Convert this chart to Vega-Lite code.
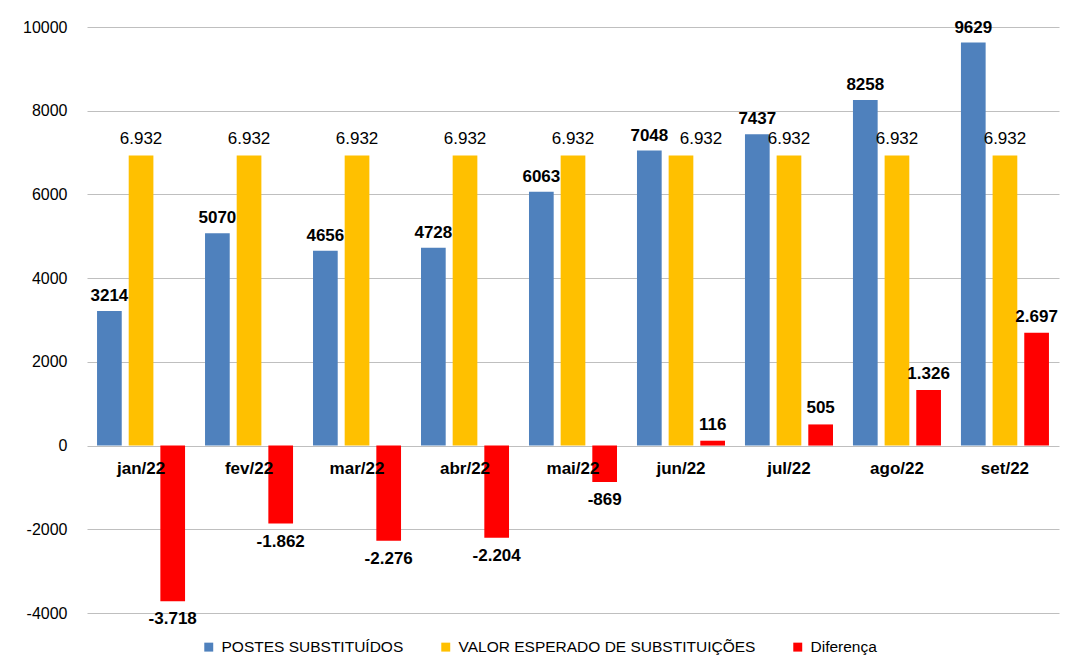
{
  "$schema": "https://vega.github.io/schema/vega-lite/v6.json",
  "width": 972,
  "height": 586,
  "autosize": "none",
  "padding": {"left": 87, "top": 27, "right": 6, "bottom": 54},
  "background": "white",
  "config": {"view": {"stroke": null}, "font": "Liberation Sans"},
  "data": {"values": [
    {"month": "jan/22", "series": "POSTES SUBSTITUÍDOS", "value": 3214, "label": "3214"},
    {"month": "jan/22", "series": "VALOR ESPERADO DE SUBSTITUIÇÕES", "value": 6932, "label": "6.932"},
    {"month": "jan/22", "series": "Diferença", "value": -3718, "label": "-3.718"},
    {"month": "fev/22", "series": "POSTES SUBSTITUÍDOS", "value": 5070, "label": "5070"},
    {"month": "fev/22", "series": "VALOR ESPERADO DE SUBSTITUIÇÕES", "value": 6932, "label": "6.932"},
    {"month": "fev/22", "series": "Diferença", "value": -1862, "label": "-1.862"},
    {"month": "mar/22", "series": "POSTES SUBSTITUÍDOS", "value": 4656, "label": "4656"},
    {"month": "mar/22", "series": "VALOR ESPERADO DE SUBSTITUIÇÕES", "value": 6932, "label": "6.932"},
    {"month": "mar/22", "series": "Diferença", "value": -2276, "label": "-2.276"},
    {"month": "abr/22", "series": "POSTES SUBSTITUÍDOS", "value": 4728, "label": "4728"},
    {"month": "abr/22", "series": "VALOR ESPERADO DE SUBSTITUIÇÕES", "value": 6932, "label": "6.932"},
    {"month": "abr/22", "series": "Diferença", "value": -2204, "label": "-2.204"},
    {"month": "mai/22", "series": "POSTES SUBSTITUÍDOS", "value": 6063, "label": "6063"},
    {"month": "mai/22", "series": "VALOR ESPERADO DE SUBSTITUIÇÕES", "value": 6932, "label": "6.932"},
    {"month": "mai/22", "series": "Diferença", "value": -869, "label": "-869"},
    {"month": "jun/22", "series": "POSTES SUBSTITUÍDOS", "value": 7048, "label": "7048"},
    {"month": "jun/22", "series": "VALOR ESPERADO DE SUBSTITUIÇÕES", "value": 6932, "label": "6.932"},
    {"month": "jun/22", "series": "Diferença", "value": 116, "label": "116"},
    {"month": "jul/22", "series": "POSTES SUBSTITUÍDOS", "value": 7437, "label": "7437"},
    {"month": "jul/22", "series": "VALOR ESPERADO DE SUBSTITUIÇÕES", "value": 6932, "label": "6.932"},
    {"month": "jul/22", "series": "Diferença", "value": 505, "label": "505"},
    {"month": "ago/22", "series": "POSTES SUBSTITUÍDOS", "value": 8258, "label": "8258"},
    {"month": "ago/22", "series": "VALOR ESPERADO DE SUBSTITUIÇÕES", "value": 6932, "label": "6.932"},
    {"month": "ago/22", "series": "Diferença", "value": 1326, "label": "1.326"},
    {"month": "set/22", "series": "POSTES SUBSTITUÍDOS", "value": 9629, "label": "9629"},
    {"month": "set/22", "series": "VALOR ESPERADO DE SUBSTITUIÇÕES", "value": 6932, "label": "6.932"},
    {"month": "set/22", "series": "Diferença", "value": 2697, "label": "2.697"}
  ]},
  "encoding": {
    "x": {"field": "month", "type": "nominal", "sort": null, "axis": null,
          "scale": {"paddingInner": 0.185, "paddingOuter": 0.093}},
    "y": {"field": "value", "type": "quantitative",
          "scale": {"domain": [-4000, 10000], "nice": false, "zero": false},
          "axis": {"values": [-4000, -2000, 0, 2000, 4000, 6000, 8000, 10000],
                   "labelExpr": "'' + datum.value",
                   "title": null, "domain": false, "ticks": false, "labelPadding": 20,
                   "labelFontSize": 16, "labelColor": "#000000", "labelFont": "Liberation Sans",
                   "gridColor": "#bfbfbf", "gridWidth": 1}}
  },
  "layer": [
    {
      "mark": {"type": "bar"},
      "encoding": {
        "xOffset": {"field": "series", "sort": ["POSTES SUBSTITUÍDOS", "VALOR ESPERADO DE SUBSTITUIÇÕES", "Diferença"],
                    "scale": {"paddingInner": 0.22, "paddingOuter": 0}},
        "color": {"field": "series", "type": "nominal",
                  "sort": ["POSTES SUBSTITUÍDOS", "VALOR ESPERADO DE SUBSTITUIÇÕES", "Diferença"],
                  "scale": {"domain": ["POSTES SUBSTITUÍDOS", "VALOR ESPERADO DE SUBSTITUIÇÕES", "Diferença"],
                            "range": ["#4F81BD", "#FFC000", "#FF0000"]},
                  "legend": {"title": null, "orient": "none", "legendX": 114, "legendY": 612,
                             "direction": "horizontal", "symbolType": "square", "symbolSize": 80,
                             "symbolStrokeWidth": 0, "labelFontSize": 15.5, "labelColor": "#000000",
                             "labelFont": "Liberation Sans", "labelLimit": 0, "columnPadding": 34, "labelOffset": 5}}
      }
    },
    {
      "transform": [{"filter": "datum.series == 'POSTES SUBSTITUÍDOS'"}],
      "mark": {"type": "text", "baseline": "bottom", "dy": -6, "fontSize": 17, "fontWeight": "bold", "color": "#000000"},
      "encoding": {
        "xOffset": {"field": "series", "sort": ["POSTES SUBSTITUÍDOS", "VALOR ESPERADO DE SUBSTITUIÇÕES", "Diferença"]},
        "text": {"field": "label"}
      }
    },
    {
      "transform": [{"filter": "datum.series == 'VALOR ESPERADO DE SUBSTITUIÇÕES' && datum.month != 'jun/22'"}],
      "mark": {"type": "text", "baseline": "bottom", "dy": -7, "fontSize": 17, "color": "#000000"},
      "encoding": {
        "xOffset": {"field": "series", "sort": ["POSTES SUBSTITUÍDOS", "VALOR ESPERADO DE SUBSTITUIÇÕES", "Diferença"]},
        "text": {"field": "label"}
      }
    },
    {
      "transform": [{"filter": "datum.series == 'VALOR ESPERADO DE SUBSTITUIÇÕES' && datum.month == 'jun/22'"}],
      "mark": {"type": "text", "baseline": "bottom", "dy": -7, "dx": 20, "fontSize": 17, "color": "#000000"},
      "encoding": {
        "xOffset": {"field": "series", "sort": ["POSTES SUBSTITUÍDOS", "VALOR ESPERADO DE SUBSTITUIÇÕES", "Diferença"]},
        "text": {"field": "label"}
      }
    },
    {
      "transform": [{"filter": "datum.series == 'Diferença' && datum.value >= 0"}],
      "mark": {"type": "text", "baseline": "bottom", "dy": -7, "fontSize": 17, "fontWeight": "bold", "color": "#000000"},
      "encoding": {
        "xOffset": {"field": "series", "sort": ["POSTES SUBSTITUÍDOS", "VALOR ESPERADO DE SUBSTITUIÇÕES", "Diferença"]},
        "text": {"field": "label"}
      }
    },
    {
      "transform": [{"filter": "datum.series == 'Diferença' && datum.value < 0"}],
      "mark": {"type": "text", "baseline": "top", "dy": 10, "fontSize": 17, "fontWeight": "bold", "color": "#000000"},
      "encoding": {
        "xOffset": {"field": "series", "sort": ["POSTES SUBSTITUÍDOS", "VALOR ESPERADO DE SUBSTITUIÇÕES", "Diferença"]},
        "text": {"field": "label"}
      }
    },
    {
      "transform": [{"filter": "datum.series == 'POSTES SUBSTITUÍDOS'"}],
      "mark": {"type": "text", "baseline": "middle", "dy": 23, "fontSize": 17, "fontWeight": "bold", "color": "#000000"},
      "encoding": {
        "y": {"datum": 0},
        "text": {"field": "month"}
      }
    }
  ]
}
